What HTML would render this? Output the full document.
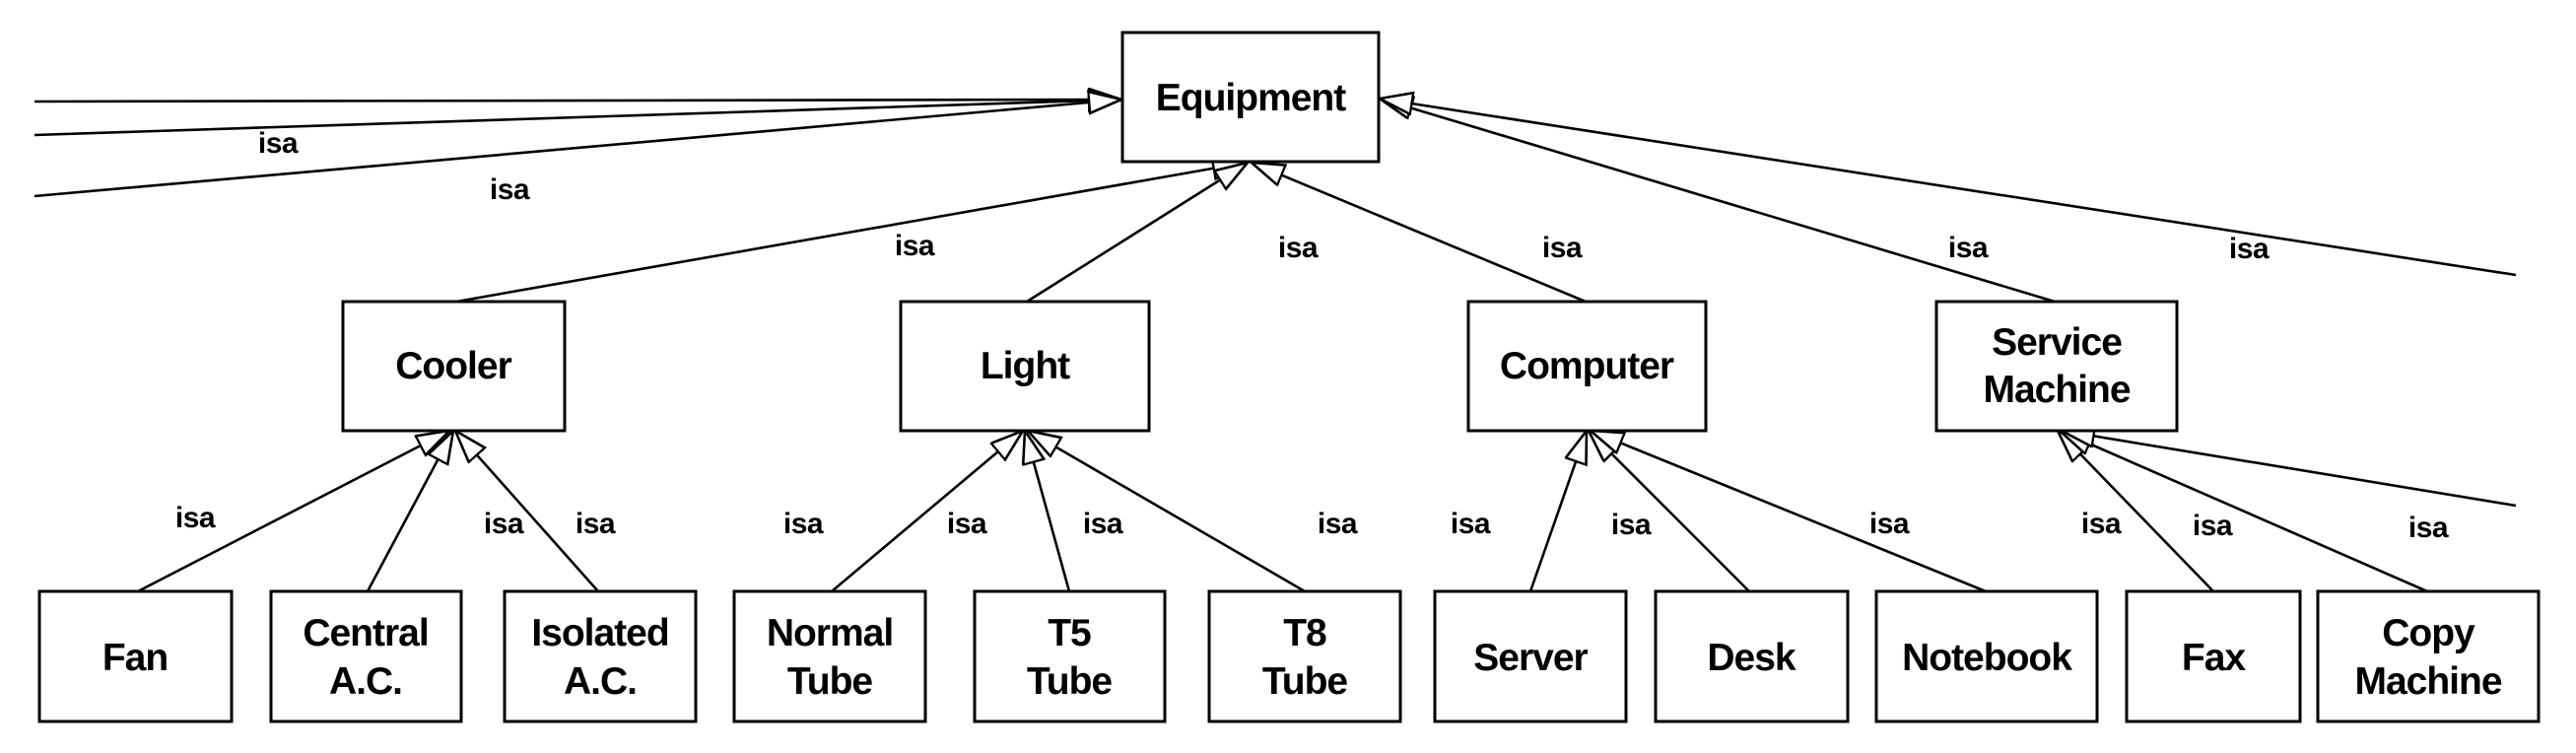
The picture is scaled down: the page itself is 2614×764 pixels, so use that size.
<!DOCTYPE html>
<html><head><meta charset="utf-8"><style>
html,body{margin:0;padding:0;background:#fff;}
svg{display:block;}
text{font-family:"Liberation Sans",Arial,sans-serif;font-weight:bold;fill:#000;}
.n{font-size:39px;text-anchor:middle;letter-spacing:-1px;}
.l{font-size:30px;text-anchor:middle;letter-spacing:-0.5px;}
rect{fill:#fff;stroke:#000;stroke-width:3;}
line{stroke:#000;stroke-width:2.6;}
</style></head><body>
<svg width="2614" height="764" viewBox="0 0 2614 764" xmlns="http://www.w3.org/2000/svg">
<defs>
<marker id="a" markerUnits="userSpaceOnUse" markerWidth="40" markerHeight="30" refX="34" refY="12" orient="auto">
<path d="M1,1 L34,12 L1,23 Z" fill="#fff" stroke="#000" stroke-width="2.6"/>
</marker>
</defs>
<line x1="35" y1="103" x2="1138" y2="101" marker-end="url(#a)"/>
<line x1="35" y1="137" x2="1138" y2="101" marker-end="url(#a)"/>
<line x1="35" y1="199" x2="1138" y2="101" marker-end="url(#a)"/>
<line x1="2085" y1="306" x2="1400" y2="100" marker-end="url(#a)"/>
<line x1="2553" y1="279" x2="1400" y2="100" marker-end="url(#a)"/>
<line x1="463" y1="306" x2="1264" y2="165" marker-end="url(#a)"/>
<line x1="1042" y1="306" x2="1266" y2="165" marker-end="url(#a)"/>
<line x1="1609" y1="306" x2="1270" y2="165" marker-end="url(#a)"/>
<line x1="140" y1="600" x2="456" y2="437" marker-end="url(#a)"/>
<line x1="373" y1="600" x2="460" y2="437" marker-end="url(#a)"/>
<line x1="607" y1="600" x2="462" y2="437" marker-end="url(#a)"/>
<line x1="844" y1="600" x2="1038" y2="437" marker-end="url(#a)"/>
<line x1="1085" y1="600" x2="1040" y2="437" marker-end="url(#a)"/>
<line x1="1324" y1="600" x2="1043" y2="437" marker-end="url(#a)"/>
<line x1="1553" y1="600" x2="1610" y2="437" marker-end="url(#a)"/>
<line x1="1775" y1="600" x2="1612" y2="437" marker-end="url(#a)"/>
<line x1="2015" y1="600" x2="1614" y2="437" marker-end="url(#a)"/>
<line x1="2246" y1="600" x2="2088" y2="437" marker-end="url(#a)"/>
<line x1="2463" y1="600" x2="2090" y2="437" marker-end="url(#a)"/>
<line x1="2553" y1="513" x2="2092" y2="437" marker-end="url(#a)"/>

<rect x="1139" y="33" width="260" height="131"/><text class="n" x="1269" y="112">Equipment</text>
<rect x="348" y="306" width="225" height="131"/><text class="n" x="460" y="384">Cooler</text>
<rect x="914" y="306" width="252" height="131"/><text class="n" x="1040" y="384">Light</text>
<rect x="1490" y="306" width="241" height="131"/><text class="n" x="1610" y="384">Computer</text>
<rect x="1965" y="306" width="244" height="131"/><text class="n" x="2087" y="360">Service</text><text class="n" x="2087" y="408">Machine</text>

<rect x="40" y="600" width="195" height="132"/><text class="n" x="137" y="680">Fan</text>
<rect x="275" y="600" width="193" height="132"/><text class="n" x="371" y="655">Central</text><text class="n" x="371" y="704">A.C.</text>
<rect x="512" y="600" width="194" height="132"/><text class="n" x="609" y="655">Isolated</text><text class="n" x="609" y="704">A.C.</text>
<rect x="745" y="600" width="194" height="132"/><text class="n" x="842" y="655">Normal</text><text class="n" x="842" y="704">Tube</text>
<rect x="989" y="600" width="193" height="132"/><text class="n" x="1085" y="655">T5</text><text class="n" x="1085" y="704">Tube</text>
<rect x="1227" y="600" width="194" height="132"/><text class="n" x="1324" y="655">T8</text><text class="n" x="1324" y="704">Tube</text>
<rect x="1456" y="600" width="194" height="132"/><text class="n" x="1553" y="680">Server</text>
<rect x="1680" y="600" width="195" height="132"/><text class="n" x="1777" y="680">Desk</text>
<rect x="1904" y="600" width="224" height="132"/><text class="n" x="2016" y="680">Notebook</text>
<rect x="2158" y="600" width="176" height="132"/><text class="n" x="2246" y="680">Fax</text>
<rect x="2352" y="600" width="224" height="132"/><text class="n" x="2464" y="655">Copy</text><text class="n" x="2464" y="704">Machine</text>

<text class="l" x="282" y="155">isa</text>
<text class="l" x="517" y="202">isa</text>
<text class="l" x="928" y="259">isa</text>
<text class="l" x="1317" y="261">isa</text>
<text class="l" x="1585" y="261">isa</text>
<text class="l" x="1997" y="261">isa</text>
<text class="l" x="2282" y="262">isa</text>
<text class="l" x="198" y="535">isa</text>
<text class="l" x="511" y="541">isa</text>
<text class="l" x="604" y="541">isa</text>
<text class="l" x="815" y="541">isa</text>
<text class="l" x="981" y="541">isa</text>
<text class="l" x="1119" y="541">isa</text>
<text class="l" x="1357" y="541">isa</text>
<text class="l" x="1492" y="541">isa</text>
<text class="l" x="1655" y="542">isa</text>
<text class="l" x="1917" y="541">isa</text>
<text class="l" x="2132" y="541">isa</text>
<text class="l" x="2245" y="543">isa</text>
<text class="l" x="2464" y="545">isa</text>
</svg>
</body></html>
